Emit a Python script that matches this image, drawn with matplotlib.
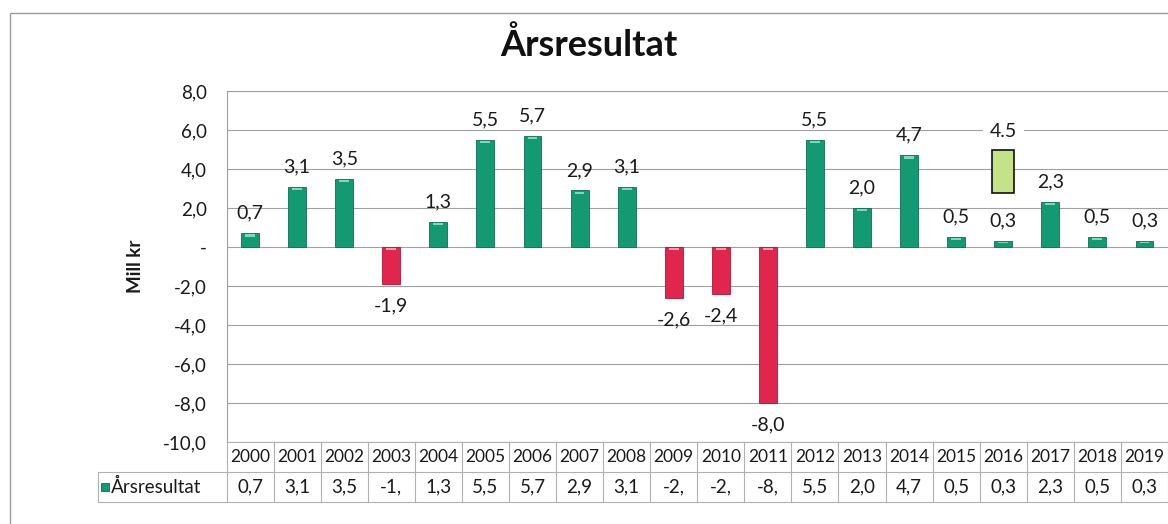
import matplotlib.pyplot as plt
import matplotlib.patches as mpatches
import numpy as np

plt.rcParams['font.family'] = ['Lato', 'DejaVu Sans']

years = [str(y) for y in range(2000, 2020)]
values = [0.7, 3.1, 3.5, -1.9, 1.3, 5.5, 5.7, 2.9, 3.1, -2.6,
          -2.4, -8.0, 5.5, 2.0, 4.7, 0.5, 0.3, 2.3, 0.5, 0.3]
yticks = [8, 6, 4, 2, 0, -2, -4, -6, -8, -10]
ytick_labels = ['8,0', '6,0', '4,0', '2,0', '-', '-2,0', '-4,0', '-6,0', '-8,0', '-10,0']
series_name = 'Årsresultat'
budget_year = '2016'
budget_value = 4.5
budget_box = (2.75, 4.96)

green = '#149a72'
green_hi = '#7fd8b8'
red = '#e2254c'
red_hi = '#f39aab'
txt = '#1a1a1a'

W, H = 1168, 524
fig = plt.figure(figsize=(W / 100, H / 100), dpi=100)

# outer chart border
fig.patches.append(mpatches.Rectangle((10 / W, -0.1), 1.2, 1 - 13 / H + 0.1,
                                      transform=fig.transFigure, fill=False,
                                      edgecolor='#9a9a9a', lw=1))

left = 226.5 / W
ax = fig.add_axes([left, 1 - 442 / H, 1 - left, 351 / H])
bw = 0.38
for i, v in enumerate(values):
    c, hi = (green, green_hi) if v >= 0 else (red, red_hi)
    ax.bar(i, v, width=bw, color=c, edgecolor='#0c6e50' if v >= 0 else '#b01535',
           lw=0.6, zorder=3)
    # small bevel highlight near the top end of each bar
    cap = 0.22 if abs(v) > 0.4 else abs(v) * 0.5
    top = v if v >= 0 else 0
    ax.bar(i, cap * 0.5, bottom=top - cap * 0.75, width=bw * 0.55, color=hi,
           lw=0, zorder=4)
    lab = f'{v:.1f}'.replace('.', ',')
    off = 20 if v >= 0 else -22
    ax.annotate(lab, (i, v), xytext=(0, off * 0.72), textcoords='offset points',
                ha='center', va='center', fontsize=14, color=txt, zorder=5)

ax.set_xlim(-0.5, len(years) - 0.5)
ax.set_ylim(-10, 8)
ax.set_yticks(yticks)
ax.set_yticklabels(ytick_labels, fontsize=13.5, color=txt)
ax.tick_params(axis='y', length=0, pad=14)
ax.set_xticks([])
ax.grid(axis='y', color='#a0a0a0', lw=0.8, zorder=0)
for s in ['right', 'bottom']:
    ax.spines[s].set_visible(False)
ax.spines['top'].set_color('#a0a0a0')
ax.spines['left'].set_color('#a0a0a0')
ax.set_ylabel('Mill kr', fontsize=13.5, fontweight='bold', labelpad=14, color=txt)

# budget marker for 2016
bi = years.index(budget_year)
ax.add_patch(mpatches.Rectangle((bi - 0.23, budget_box[0]), 0.46,
                                budget_box[1] - budget_box[0],
                                facecolor='#c4e389', edgecolor='#111111', lw=1.2, zorder=5))
ax.text(bi, 5.93, f'{budget_value}', ha='center', va='center', fontsize=14,
        zorder=6, color=txt, bbox=dict(facecolor='white', edgecolor='none', pad=5))
ax.patch.set_visible(False)

fig.text(0.504, 1 - 45 / H, series_name, ha='center', va='center',
         fontsize=26, fontweight='bold', color='#111111')

# data table below the plot
tab = fig.add_axes([left, 1 - 502 / H, 1 - left, 60 / H])
tab.set_xlim(-0.5, len(years) - 0.5)
tab.set_ylim(0, 2)
tab.axis('off')
line_c = '#b0b0b0'
head_x = -0.5 - (226.5 - 98) / 47.15
tab.plot([-0.5, len(years) - 0.5], [2, 2], color=line_c, lw=0.8, clip_on=False)
tab.plot([head_x, len(years) - 0.5], [1, 1], color=line_c, lw=0.8, clip_on=False)
tab.plot([head_x, len(years) - 0.5], [0, 0], color=line_c, lw=0.8, clip_on=False)
tab.plot([head_x, head_x], [0, 1], color=line_c, lw=0.8, clip_on=False)
for i in range(len(years) + 1):
    tab.plot([i - 0.5, i - 0.5], [0, 2], color=line_c, lw=0.8, clip_on=False)
for i, (yr, v) in enumerate(zip(years, values)):
    tab.text(i, 1.5, yr, ha='center', va='center', fontsize=12.5, color=txt)
    tab.text(i, 0.5, f'{v:.1f}'.replace('.', ',')[:3], ha='center', va='center',
             fontsize=13.5, color=txt)
tab.add_patch(mpatches.Rectangle((head_x + 0.06, 0.36), 0.17, 0.28, facecolor=green,
                                 edgecolor='#0c6e50', lw=0.6, clip_on=False))
tab.text(head_x + 0.27, 0.5, series_name, ha='left', va='center', fontsize=13.5,
         color=txt)

fig.savefig('out.png', dpi=100)
